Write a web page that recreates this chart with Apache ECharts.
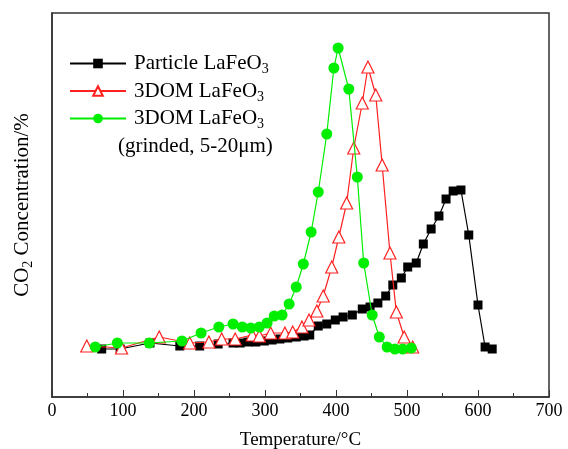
<!DOCTYPE html>
<html>
<head>
<meta charset="utf-8">
<script src="https://cdn.jsdelivr.net/npm/echarts@6/dist/echarts.min.js"></script>
<style>
  html, body { margin: 0; padding: 0; background: #fff; }
  #chart { width: 568px; height: 449px; }
</style>
</head>
<body>
<div id="chart"></div>
<script>
// CO2 release profiles (arbitrary concentration units) versus temperature (°C)
const particleTemp = [70, 96, 138, 180, 208, 234, 255, 265, 276, 287, 299, 310, 321, 332, 344, 355, 363, 375, 387, 399, 410, 423, 437, 448, 459, 470, 480, 492, 501, 513, 523, 534, 545, 555, 565, 576, 587, 600, 610, 620];
const particleConc = [48, 48, 54, 51, 51, 53, 54, 54, 55, 55, 56, 57, 58, 59, 60, 61, 62, 71, 73, 77, 80, 82, 88, 90, 94, 101, 112, 119, 130, 134, 153, 168, 181, 198, 206, 207, 162, 92, 50, 48];

const domTemp = [49, 98, 151, 194, 221, 239, 258, 282, 292, 308, 328, 339, 352, 362, 373, 382, 394, 404, 415, 425, 437, 445, 456, 465, 476, 485, 496, 508];
const domConc = [51, 49, 60, 54, 55, 58, 58, 62, 61, 64, 64, 65, 70, 77, 86, 101, 130, 160, 194, 249, 294, 330, 302, 232, 144, 85, 60, 50];

const grindTemp = [61, 92, 137, 183, 210, 235, 255, 268, 280, 292, 303, 313, 324, 334, 344, 354, 365, 375, 387, 397, 403, 418, 430, 439, 451, 461, 472, 483, 494, 506];
const grindConc = [50, 54, 54, 56, 64, 70, 73, 70, 69, 70, 74, 81, 82, 93, 110, 133, 165, 205, 263, 329, 349, 308, 220, 134, 82, 60, 50, 48, 48, 49];

const xTicks = { min: 0, max: 700, step: 100 };
const seriesNames = ['Particle LaFeO3', '3DOM LaFeO3', '3DOM LaFeO3 (grinded)'];

const pair = (xs, ys) => xs.map((x, i) => [x, ys[i]]);
const serif = "'Liberation Serif', 'Times New Roman', serif";

const chart = echarts.init(document.getElementById('chart'), null, { renderer: 'canvas' });

chart.setOption({
  animation: false,
  backgroundColor: '#fff',
  textStyle: { fontFamily: serif, color: '#000' },
  grid: {
    left: 52, top: 13, right: 19, bottom: 52,
    outerBoundsMode: 'none', containLabel: false,
    show: true, borderColor: '#333', borderWidth: 1.5, backgroundColor: 'transparent'
  },
  legend: {
    left: 64, top: 48, orient: 'vertical',
    itemWidth: 56, itemHeight: 12, itemGap: 4,
    data: seriesNames,
    formatter: function (name) {
      return name.indexOf('Particle') === 0
        ? '{a|Particle LaFeO}{s|3}'
        : '{a|3DOM LaFeO}{s|3}';
    },
    textStyle: {
      fontFamily: serif, color: '#000',
      rich: {
        a: { fontFamily: serif, fontSize: 21, color: '#000', padding: [0, 0, 0, 3] },
        s: { fontFamily: serif, fontSize: 14, color: '#000', padding: [12, 0, 0, 0] }
      }
    }
  },
  graphic: [{
    type: 'text', left: 118, top: 136,
    style: { text: '(grinded, 5-20\u03bcm)', font: "21px 'Liberation Serif', serif", fill: '#000' }
  }],
  xAxis: {
    type: 'value', min: xTicks.min, max: xTicks.max, interval: xTicks.step,
    name: 'Temperature/°C', nameLocation: 'middle', nameGap: 34,
    nameTextStyle: { fontFamily: serif, fontSize: 19, color: '#000' },
    axisLine: { show: true, lineStyle: { color: '#333', width: 1.5 } },
    axisTick: { show: true, inside: true, length: 7, lineStyle: { color: '#333' } },
    minorTick: { show: true, splitNumber: 2, length: 4, lineStyle: { color: '#333' } },
    axisLabel: { fontFamily: serif, fontSize: 18, color: '#000', margin: 5 },
    splitLine: { show: false }
  },
  yAxis: {
    type: 'value', min: 0, max: 384,
    name: '{a|CO}{s|2}{a| Concentration/%}', nameLocation: 'middle', nameGap: 17,
    nameTextStyle: {
      fontFamily: serif, color: '#000',
      rich: {
        a: { fontFamily: serif, fontSize: 21, color: '#000' },
        s: { fontFamily: serif, fontSize: 14, color: '#000', padding: [12, 0, 0, 0] }
      }
    },
    axisLine: { show: true, lineStyle: { color: '#333', width: 1.5 } },
    axisTick: { show: false },
    axisLabel: { show: false },
    splitLine: { show: false }
  },
  series: [
    {
      name: seriesNames[0], type: 'line', data: pair(particleTemp, particleConc),
      symbol: 'rect', symbolSize: 9,
      itemStyle: { color: '#000' },
      lineStyle: { color: '#000', width: 1.2 }, z: 2
    },
    {
      name: seriesNames[1], type: 'line', data: pair(domTemp, domConc),
      symbol: 'triangle', symbolSize: 12,
      itemStyle: { color: '#fff', borderColor: '#ff2020', borderWidth: 1.2 },
      lineStyle: { color: '#ff2020', width: 1.2 }, z: 3
    },
    {
      name: seriesNames[2], type: 'line', data: pair(grindTemp, grindConc),
      symbol: 'circle', symbolSize: 11,
      itemStyle: { color: '#00ee00' },
      lineStyle: { color: '#00ee00', width: 1.2 }, z: 4
    }
  ]
});
</script>
</body>
</html>
